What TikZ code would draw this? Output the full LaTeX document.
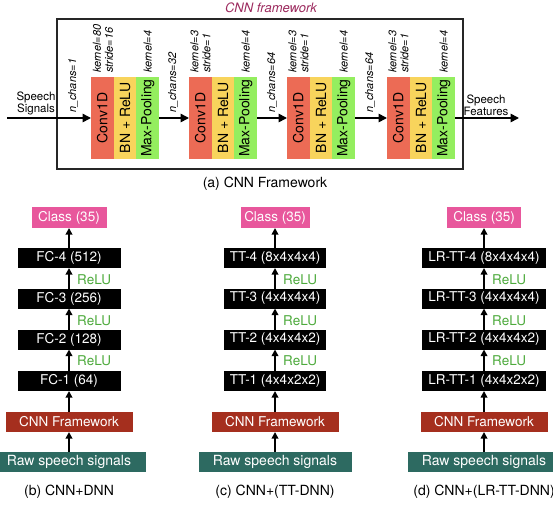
\documentclass[tikz,border=0pt]{standalone}
\usepackage{fontspec}
\setmainfont{TeX Gyre Heros}
\usepackage{graphicx}
\usetikzlibrary{arrows.meta}

\definecolor{convc}{HTML}{EC6B55}
\definecolor{bnc}{HTML}{F8D45C}
\definecolor{mpc}{HTML}{94EE5F}
\definecolor{classc}{HTML}{E8579C}
\definecolor{cnnc}{HTML}{A52F1E}
\definecolor{rawc}{HTML}{2D6A61}
\definecolor{reluc}{HTML}{4DAA3C}
\definecolor{titlec}{HTML}{9C2A5E}

\tikzset{
  strip/.style={rectangle, inner sep=0pt, outer sep=0pt, minimum width=22.7pt,
    minimum height=82pt, font=\fontsize{14}{15}\selectfont},
  tiny/.style={rotate=90, anchor=west, inner sep=0pt, font=\fontsize{11}{12}\selectfont\itshape},
  bigarr/.style={line width=1.6pt, -{Triangle[length=8.5pt,width=8.5pt]}},
  smallarr/.style={line width=1.8pt, -{Triangle[length=6.5pt,width=6.5pt]}},
  boxbase/.style={rectangle, inner sep=0pt, outer sep=0pt, minimum height=20pt,
    text=white, font=\fontsize{13.5}{15}\selectfont},
  layer/.style={boxbase, fill=black},
  classbox/.style={boxbase, fill=classc, minimum height=21pt},
  cnnbox/.style={boxbase, fill=cnnc, minimum width=127pt},
  rawbox/.style={boxbase, fill=rawc, minimum width=153pt, font=\fontsize{14}{15}\selectfont},
  relu/.style={anchor=west, inner sep=0pt, text=reluc, font=\fontsize{13.5}{15}\selectfont},
  caption/.style={inner sep=0pt, font=\fontsize{14}{16}\selectfont},
  side/.style={align=center, inner sep=0pt, font=\fontsize{11.5}{12}\selectfont}
}

\begin{document}
\begin{tikzpicture}[x=1pt, y=-1pt]
\useasboundingbox (0,0) rectangle (553,506);

% ---------- CNN framework ----------
\node[inner sep=0pt, text=titlec, font=\fontsize{13}{15}\selectfont\itshape] (title) at (271,8) {CNN framework};
\draw[line width=1.3pt, draw=black!85] (57,19) rectangle (463,169);

\foreach \i/\x in {1/91, 2/189, 3/287, 4/387} {
  \node[strip, fill=convc, anchor=north west] (conv\i) at (\x,77) {\rotatebox{90}{Conv1D}};
  \node[strip, fill=bnc, anchor=north west] (bn\i) at (conv\i.north east) {\rotatebox{90}{BN + ReLU}};
  \node[strip, fill=mpc, anchor=north west] (mp\i) at (bn\i.north east) {\rotatebox{90}{Max-Pooling}};
  \node[tiny] (kmp\i) at ([yshift=4pt]mp\i.north) {kernel=4};
}
\node[tiny] (k1) at ([xshift=6pt,yshift=4pt]conv1.north west) {kernel=80};
\node[tiny] (s1) at ([xshift=18pt,yshift=4pt]conv1.north west) {stride=16};
\foreach \i in {2,3,4} {
  \node[tiny] (k\i) at ([xshift=5.5pt,yshift=4pt]conv\i.north west) {kernel=3};
  \node[tiny] (s\i) at ([xshift=17.5pt,yshift=4pt]conv\i.north west) {stride=1};
}

% input and output
\coordinate (in) at (7,118);
\coordinate (out) at (519,118);
\draw[bigarr] (in) -- (conv1.west);
\node[side] (sig) at (36,103) {Speech\\Signals};
\draw[bigarr] (mp4.east) -- (out);
\node[side] (feat) at (486,105) {Speech\\Features};

% links between blocks
\draw[bigarr] (mp1.east) -- (conv2.west);
\draw[bigarr] (mp2.east) -- (conv3.west);
\draw[bigarr] (mp3.east) -- (conv4.west);
\node[tiny] (n1) at (73,113) {n\_chans=1};
\node[tiny] (n2) at (173,113) {n\_chans=32};
\node[tiny] (n3) at (272,113) {n\_chans=64};
\node[tiny] (n4) at (370,113) {n\_chans=64};

\node[caption] (capa) at (265,184) {(a) CNN Framework};

% ---------- classifier stacks ----------
\foreach \k/\x/\lw/\cw/\la/\lb/\lc/\ld/\cp in {
  b/69/103/75/{FC-1 (64)}/{FC-2 (128)}/{FC-3 (256)}/{FC-4 (512)}/{(b) CNN+DNN},
  c/275/102/69/{TT-1 (4x4x2x2)}/{TT-2 (4x4x4x2)}/{TT-3 (4x4x4x4)}/{TT-4 (8x4x4x4)}/{(c) CNN+(TT-DNN)},
  d/484/124/74/{LR-TT-1 (4x4x2x2)}/{LR-TT-2 (4x4x4x2)}/{LR-TT-3 (4x4x4x4)}/{LR-TT-4 (8x4x4x4)}/{(d) CNN+(LR-TT-DNN)}} {
  \node[rawbox] (raw\k) at (\x,462) {Raw speech signals};
  \node[cnnbox] (cnn\k) at (\x,422) {CNN Framework};
  \node[layer, minimum width=\lw pt] (la\k) at (\x,381) {\la};
  \node[layer, minimum width=\lw pt] (lb\k) at (\x,339.5) {\lb};
  \node[layer, minimum width=\lw pt] (lc\k) at (\x,298.5) {\lc};
  \node[layer, minimum width=\lw pt] (ld\k) at (\x,258) {\ld};
  \node[classbox, minimum width=\cw pt] (cls\k) at (\x,217.5) {Class (35)};
  \node[caption] (cap\k) at (\x,492) {\cp};
  \draw[smallarr] (raw\k) -- (cnn\k);
  \draw[smallarr] (cnn\k) -- (la\k);
  \draw[smallarr] (la\k) -- (lb\k);
  \draw[smallarr] (lb\k) -- (lc\k);
  \draw[smallarr] (lc\k) -- (ld\k);
  \draw[smallarr] (ld\k) -- (cls\k);
  \node[relu] (ra\k) at (\x+8,361) {ReLU};
  \node[relu] (rb\k) at (\x+8,321) {ReLU};
  \node[relu] (rc\k) at (\x+8,280) {ReLU};
}
\end{tikzpicture}
\end{document}
